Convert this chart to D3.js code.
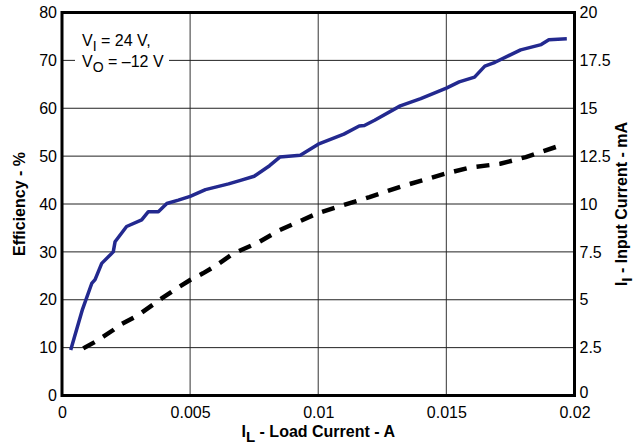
<!DOCTYPE html>
<html>
<head>
<meta charset="utf-8">
<script src="https://cdn.jsdelivr.net/npm/d3@7"></script>
<style>
  body { margin: 0; background: #fff; }
  svg text { font-family: "Liberation Sans", Arial, Helvetica, sans-serif; }
</style>
</head>
<body>
<div id="chart"></div>
<script>
// efficiency curve (left axis, %)
var effLoad = [0.00034, 0.0005, 0.0008, 0.00116, 0.00129, 0.00155, 0.002, 0.00207, 0.00252, 0.00311,
  0.00337, 0.00376, 0.00409, 0.00454, 0.005, 0.0056, 0.0065, 0.007, 0.0075, 0.0081, 0.0085, 0.0093,
  0.01, 0.011, 0.0116, 0.0118, 0.0122, 0.0132, 0.014, 0.015, 0.0155, 0.0161, 0.0165, 0.0169, 0.0179,
  0.0187, 0.019, 0.0197];
var effValues = [9.5, 12.5, 18, 23.4, 24.2, 27.6, 30, 32.1, 35.3, 36.7,
  38.4, 38.4, 40.1, 40.8, 41.6, 43, 44.2, 45, 45.8, 48, 49.8, 50.2,
  52.5, 54.6, 56.3, 56.4, 57.5, 60.5, 62, 64.2, 65.5, 66.5, 68.8, 69.6, 72.2,
  73.3, 74.3, 74.5];

// input current curve (right axis, mA)
var curLoad = [0.00083, 0.00129, 0.00161, 0.002, 0.00226, 0.00298, 0.00389, 0.00448, 0.005, 0.0055,
  0.00604, 0.00669, 0.0076, 0.0085, 0.01, 0.011, 0.012, 0.0132, 0.0144, 0.015, 0.0159, 0.0171,
  0.0181, 0.0195];
var curValues = [2.46, 2.8, 3.07, 3.42, 3.68, 4.2, 5.07, 5.6, 6.03, 6.38,
  6.81, 7.42, 7.95, 8.64, 9.53, 9.95, 10.36, 10.9, 11.36, 11.6, 11.9, 12.1,
  12.45, 13.08];

var xTicks = [0, 0.005, 0.01, 0.015, 0.02];
var xTickLabels = ["0", "0.005", "0.01", "0.015", "0.02"];
var leftTicks = [0, 10, 20, 30, 40, 50, 60, 70, 80];
var rightTicks = [0, 2.5, 5, 7.5, 10, 12.5, 15, 17.5, 20];
var rightTickLabels = ["0", "2.5", "5", "7.5", "10", "12.5", "15", "17.5", "20"];

var width = 640, height = 446;
var margin = {top: 12.5, right: 65.5, bottom: 50.5, left: 62};
var plotW = width - margin.left - margin.right;
var plotH = height - margin.top - margin.bottom;

var svg = d3.select("#chart").append("svg")
  .attr("width", width)
  .attr("height", height);

var g = svg.append("g")
  .attr("transform", "translate(" + margin.left + "," + margin.top + ")");

var x = d3.scaleLinear().domain([0, 0.02]).range([0, plotW]);
var yL = d3.scaleLinear().domain([0, 80]).range([plotH, 0]);
var yR = d3.scaleLinear().domain([0, 20]).range([plotH, 0]);

// grid
g.append("g")
  .selectAll("line")
  .data(xTicks.slice(1, -1))
  .enter().append("line")
  .attr("x1", function(d) { return x(d); })
  .attr("x2", function(d) { return x(d); })
  .attr("y1", 0)
  .attr("y2", plotH)
  .attr("stroke", "#555")
  .attr("stroke-width", 1.2);

g.append("g")
  .selectAll("line")
  .data(leftTicks.slice(1, -1))
  .enter().append("line")
  .attr("x1", 0)
  .attr("x2", plotW)
  .attr("y1", function(d) { return yL(d); })
  .attr("y2", function(d) { return yL(d); })
  .attr("stroke", "#222")
  .attr("stroke-width", 1);

// axes (labels only, frame drawn below)
var leftAxis = g.append("g")
  .call(d3.axisLeft(yL).tickValues(leftTicks).tickSize(0).tickPadding(5));
var rightAxis = g.append("g")
  .attr("transform", "translate(" + plotW + ",0)")
  .call(d3.axisRight(yR).tickValues(rightTicks).tickSize(0).tickPadding(5)
    .tickFormat(function(d, i) { return rightTickLabels[i]; }));
var bottomAxis = g.append("g")
  .attr("transform", "translate(0," + plotH + ")")
  .call(d3.axisBottom(x).tickValues(xTicks).tickSize(0).tickPadding(11)
    .tickFormat(function(d, i) { return xTickLabels[i]; }));

[leftAxis, rightAxis, bottomAxis].forEach(function(a) {
  a.select(".domain").remove();
  a.selectAll("text")
    .style("font-family", "'Liberation Sans', Arial, sans-serif")
    .style("font-size", "16px")
    .attr("fill", "#000");
});
// lowest right label sits a little above the frame corner
rightAxis.selectAll(".tick").filter(function(d) { return d === 0; })
  .select("text").attr("dy", "0.1em");

// annotation box
g.append("rect")
  .attr("x", 13).attr("y", 14)
  .attr("width", 94).attr("height", 46)
  .attr("fill", "#fff");

var note = g.append("text")
  .attr("x", 20).attr("y", 33)
  .style("font-size", "16px");
note.append("tspan").text("V");
note.append("tspan").attr("dy", 5).style("font-size", "14px").text("I");
note.append("tspan").attr("dy", -5).text(" = 24 V,");

var note2 = g.append("text")
  .attr("x", 20).attr("y", 54)
  .style("font-size", "16px");
note2.append("tspan").text("V");
note2.append("tspan").attr("dy", 5).style("font-size", "14px").text("O");
note2.append("tspan").attr("dy", -5).text(" = \u201312 V");

// curves
var effLine = d3.line()
  .x(function(d) { return x(d[0]); })
  .y(function(d) { return yL(d[1]); });
var curLine = d3.line()
  .x(function(d) { return x(d[0]); })
  .y(function(d) { return yR(d[1]); });

g.append("path")
  .datum(d3.zip(curLoad, curValues))
  .attr("d", curLine)
  .attr("fill", "none")
  .attr("stroke", "#000")
  .attr("stroke-width", 4.5)
  .attr("stroke-dasharray", "13,10");

g.append("path")
  .datum(d3.zip(effLoad, effValues))
  .attr("d", effLine)
  .attr("fill", "none")
  .attr("stroke", "#23298f")
  .attr("stroke-width", 3.5)
  .attr("stroke-linejoin", "round");

// frame
g.append("rect")
  .attr("x", 0).attr("y", 0)
  .attr("width", plotW).attr("height", plotH)
  .attr("fill", "none")
  .attr("stroke", "#000")
  .attr("stroke-width", 3);

// axis titles
var xt = svg.append("text")
  .attr("x", margin.left + plotW / 2)
  .attr("y", 437)
  .attr("text-anchor", "middle")
  .style("font-size", "16px")
  .style("font-weight", "bold");
xt.append("tspan").text("I");
xt.append("tspan").attr("dy", 5).style("font-size", "15px").text("L");
xt.append("tspan").attr("dy", -5).text(" - Load Current - A");

svg.append("text")
  .attr("transform", "translate(25," + (margin.top + plotH / 2) + ") rotate(-90)")
  .attr("text-anchor", "middle")
  .style("font-size", "16px")
  .style("font-weight", "bold")
  .text("Efficiency - %");

var yt = svg.append("text")
  .attr("transform", "translate(627," + (margin.top + plotH / 2) + ") rotate(-90)")
  .attr("text-anchor", "middle")
  .style("font-size", "16px")
  .style("font-weight", "bold");
yt.append("tspan").text("I");
yt.append("tspan").attr("dy", 5).style("font-size", "15px").text("I");
yt.append("tspan").attr("dy", -5).text(" - Input Current - mA");
</script>
</body>
</html>
